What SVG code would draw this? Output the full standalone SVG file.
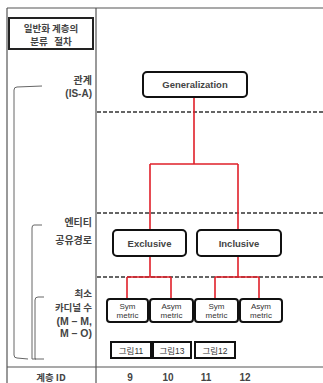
<svg xmlns="http://www.w3.org/2000/svg" width="323" height="383" viewBox="0 0 323 383">
<style>
.grid{stroke:#555;stroke-width:1.2;fill:none}
.dash{stroke:#333;stroke-width:1.3;stroke-dasharray:4 2;fill:none}
.br{stroke:#666;stroke-width:1;fill:none}
.node{fill:#fff;stroke:#111;stroke-width:2}
.red{stroke:#e0202a;stroke-width:1.6;fill:none}
.ko{font-family:"Noto Sans CJK KR","Noto Sans",sans-serif;font-weight:bold;fill:#444}
.en{font-family:"Liberation Sans","Noto Sans",sans-serif;font-weight:bold;fill:#444}
.sm{font-family:"Liberation Sans","Noto Sans CJK KR",sans-serif;fill:#333}
</style>
<rect width="323" height="383" fill="#fff"/>
<g id="table">
<line class="grid" x1="7" y1="8" x2="323" y2="8"/>
<line class="grid" x1="7" y1="8" x2="7" y2="383"/>
<line class="grid" x1="96" y1="8" x2="96" y2="383"/>
<line class="grid" x1="7" y1="367" x2="323" y2="367"/>
<line class="dash" x1="97" y1="112" x2="323" y2="112"/>
<line class="dash" x1="97" y1="213" x2="323" y2="213"/>
<line class="dash" x1="97" y1="277" x2="323" y2="277"/>
</g>
<g id="title">
<rect x="9" y="18" width="84" height="31" fill="#fff" stroke="#222" stroke-width="2"/>
<text class="ko" x="51" y="32" font-size="9.5" text-anchor="middle">일반화 계층의</text>
<text class="ko" x="51" y="45" font-size="9.5" text-anchor="middle" xml:space="preserve">분류   절차</text>
</g>
<g id="brackets">
<path class="br" d="M42,86 L17,87 Q14,87 14,90 L14,355 Q14,358 17,358 L28,359"/>
<path class="br" d="M42,225 L34,225 Q32,225 32,228 L32,359 L36,359"/>
<path class="br" d="M44,297 L38,297 Q35,297 35,300 L35,359 L44,359"/>
</g>
<g id="labels">
<text class="ko" x="92" y="84" font-size="10" text-anchor="end">관계</text>
<text class="en" x="92" y="97" font-size="10" text-anchor="end">(IS-A)</text>
<text class="ko" x="92" y="226" font-size="10" text-anchor="end">엔티티</text>
<text class="ko" x="92" y="244" font-size="10" text-anchor="end">공유경로</text>
<text class="ko" x="92" y="297" font-size="9.5" text-anchor="end">최소</text>
<text class="ko" x="92" y="311" font-size="9.5" text-anchor="end">카디널 수</text>
<text class="en" x="92" y="325" font-size="10.5" text-anchor="end">(M – M,</text>
<text class="en" x="92" y="337" font-size="10.5" text-anchor="end">M – O)</text>
<text class="ko" x="51" y="381" font-size="9.5" text-anchor="middle">계층 ID</text>
<text class="en" x="130" y="381" font-size="10" text-anchor="middle">9</text>
<text class="en" x="168" y="381" font-size="10" text-anchor="middle">10</text>
<text class="en" x="206" y="381" font-size="10" text-anchor="middle">11</text>
<text class="en" x="245" y="381" font-size="10" text-anchor="middle">12</text>
</g>
<g id="connectors">
<path class="red" d="M194,97 V164 M150,164 H238 M150,164 V230 M238,164 V230"/>
<path class="red" d="M150,256 V277 M127,277 H171 M127,277 V299 M171,277 V299"/>
<path class="red" d="M238,256 V277 M215,277 H259 M215,277 V299 M259,277 V299"/>
</g>
<g id="generalization">
<rect class="node" x="143" y="72" width="104" height="25" rx="4"/>
<text class="en" x="195" y="88" font-size="9.5" text-anchor="middle">Generalization</text>
</g>
<g id="exclusive">
<rect class="node" x="113" y="230" width="73" height="26" rx="4"/>
<text class="en" x="149.5" y="246.5" font-size="9.5" text-anchor="middle">Exclusive</text>
</g>
<g id="inclusive">
<rect class="node" x="197" y="230" width="84" height="26" rx="4"/>
<text class="en" x="239" y="246.5" font-size="9.5" text-anchor="middle">Inclusive</text>
</g>
<g id="sym1">
<rect class="node" x="107" y="299" width="41" height="23" rx="3"/>
<text class="sm" x="127.5" y="309" font-size="8" text-anchor="middle">Sym</text>
<text class="sm" x="127.5" y="318" font-size="8" text-anchor="middle">metric</text>
</g>
<g id="asym1">
<rect class="node" x="150" y="299" width="43" height="23" rx="3"/>
<text class="sm" x="171.5" y="309" font-size="8" text-anchor="middle">Asym</text>
<text class="sm" x="171.5" y="318" font-size="8" text-anchor="middle">metric</text>
</g>
<g id="sym2">
<rect class="node" x="195" y="299" width="43" height="23" rx="3"/>
<text class="sm" x="216.5" y="309" font-size="8" text-anchor="middle">Sym</text>
<text class="sm" x="216.5" y="318" font-size="8" text-anchor="middle">metric</text>
</g>
<g id="asym2">
<rect class="node" x="240" y="299" width="42" height="23" rx="3"/>
<text class="sm" x="261" y="309" font-size="8" text-anchor="middle">Asym</text>
<text class="sm" x="261" y="318" font-size="8" text-anchor="middle">metric</text>
</g>
<g id="fig11">
<rect x="111" y="342" width="40" height="16" fill="#fff" stroke="#111" stroke-width="2"/>
<text class="sm" x="131" y="353.5" font-size="8.5" text-anchor="middle">그림11</text>
</g>
<g id="fig13">
<rect x="153" y="342" width="38" height="16" fill="#fff" stroke="#111" stroke-width="2"/>
<text class="sm" x="172" y="353.5" font-size="8.5" text-anchor="middle">그림13</text>
</g>
<g id="fig12">
<rect x="195" y="342" width="40" height="16" fill="#fff" stroke="#111" stroke-width="2"/>
<text class="sm" x="215" y="353.5" font-size="8.5" text-anchor="middle">그림12</text>
</g>
</svg>
